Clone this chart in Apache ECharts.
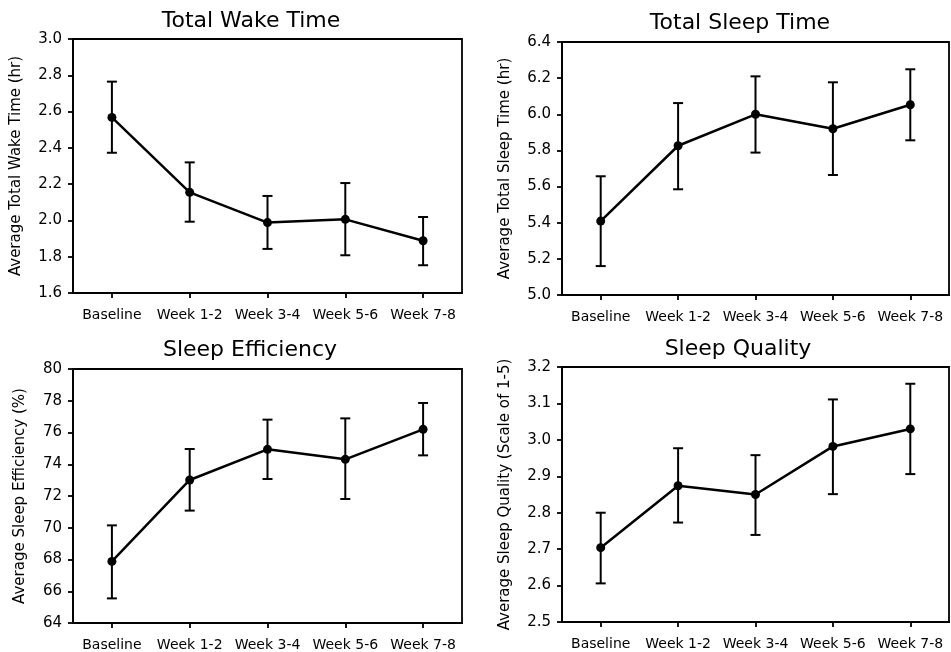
<!DOCTYPE html>
<html>
<head>
<meta charset="utf-8">
<script src="https://cdn.jsdelivr.net/npm/echarts@6/dist/echarts.min.js"></script>
<style>html,body{margin:0;padding:0;background:#fff;}#c{width:951px;height:652px;}</style>
</head>
<body>
<div id="c"></div>
<script>
var categories = ['Baseline', 'Week 1-2', 'Week 3-4', 'Week 5-6', 'Week 7-8'];

var titles = ['Total Wake Time', 'Total Sleep Time', 'Sleep Efficiency', 'Sleep Quality'];
var yNames = ['Average Total Wake Time (hr)', 'Average Total Sleep Time (hr)', 'Average Sleep Efficiency (%)', 'Average Sleep Quality (Scale of 1-5)'];

var wakeMean = [2.568, 2.155, 1.988, 2.006, 1.888];
var wakeLow  = [2.373, 1.993, 1.843, 1.808, 1.753];
var wakeHigh = [2.765, 2.320, 2.135, 2.206, 2.019];

var sleepMean = [5.409, 5.826, 6.000, 5.920, 6.053];
var sleepLow  = [5.160, 5.585, 5.788, 5.664, 5.856];
var sleepHigh = [5.657, 6.062, 6.210, 6.177, 6.249];

var effMean = [67.88, 73.01, 74.94, 74.31, 76.20];
var effLow  = [65.55, 71.08, 73.07, 71.81, 74.56];
var effHigh = [70.15, 74.96, 76.81, 76.89, 77.86];

var qualMean = [2.704, 2.874, 2.850, 2.982, 3.030];
var qualLow  = [2.606, 2.773, 2.739, 2.851, 2.906];
var qualHigh = [2.800, 2.977, 2.958, 3.111, 3.154];

var yMins = [1.6, 5.0, 64, 2.5];
var yMaxs = [3.0, 6.4, 80, 3.2];
var yIntervals = [0.2, 0.2, 2, 0.1];
var yDecimals = [1, 1, 0, 1];

var means = [wakeMean, sleepMean, effMean, qualMean];
var lows = [wakeLow, sleepLow, effLow, qualLow];
var highs = [wakeHigh, sleepHigh, effHigh, qualHigh];

var FONT = 'DejaVu Sans';
var grids = [
  {left: 73, top: 39, width: 389, height: 254},
  {left: 562, top: 42, width: 387, height: 253},
  {left: 73, top: 369, width: 389, height: 254},
  {left: 562, top: 367, width: 387, height: 255}
];
var titlePos = [[251, 21], [740, 23], [250, 350], [738, 349]];
var nameGaps = [49, 49, 45, 49];

var option = {
  backgroundColor: '#fff',
  animation: false,
  grid: grids.map(function (g) {
    return Object.assign({show: true, borderColor: '#000', borderWidth: 1.8, backgroundColor: 'transparent'}, g);
  }),
  graphic: titles.map(function (t, i) {
    return {type: 'text', x: titlePos[i][0], y: titlePos[i][1],
      style: {text: t, font: '22px "' + FONT + '"', fill: '#000', textAlign: 'center', textVerticalAlign: 'middle'}};
  }),
  xAxis: grids.map(function (g, i) {
    return {
      type: 'category', gridIndex: i, data: categories, boundaryGap: true,
      axisLine: {show: true, lineStyle: {color: '#000', width: 1.8}},
      axisTick: {show: true, alignWithLabel: true, length: 5, lineStyle: {color: '#000', width: 1.8}},
      axisLabel: {color: '#000', fontFamily: FONT, fontSize: 14, margin: 15, interval: 0},
      splitLine: {show: false}
    };
  }),
  yAxis: grids.map(function (g, i) {
    return {
      type: 'value', gridIndex: i, min: yMins[i], max: yMaxs[i], interval: yIntervals[i],
      name: yNames[i], nameLocation: 'middle', nameRotate: 90, nameGap: nameGaps[i],
      nameTextStyle: {color: '#000', fontFamily: FONT, fontSize: 15},
      axisLine: {show: true, lineStyle: {color: '#000', width: 1.8}},
      axisTick: {show: true, length: 5, lineStyle: {color: '#000', width: 1.8}},
      axisLabel: {color: '#000', fontFamily: FONT, fontSize: 15, margin: 11,
        formatter: (function (d) { return function (v) { return Number(v).toFixed(d); }; })(yDecimals[i])},
      splitLine: {show: false}
    };
  }),
  series: []
};

for (var i = 0; i < 4; i++) {
  var ebData = categories.map(function (c, k) { return [k, lows[i][k], highs[i][k]]; });
  option.series.push({
    type: 'custom', xAxisIndex: i, yAxisIndex: i, data: ebData, z: 2,
    encode: {x: 0, y: [1, 2]},
    renderItem: function (params, api) {
      var x = api.value(0);
      var lo = api.coord([x, api.value(1)]);
      var hi = api.coord([x, api.value(2)]);
      var hw = 5;
      var st = {stroke: '#000', lineWidth: 2, fill: null};
      return {type: 'group', children: [
        {type: 'line', shape: {x1: lo[0], y1: lo[1], x2: hi[0], y2: hi[1]}, style: st},
        {type: 'line', shape: {x1: lo[0] - hw, y1: lo[1], x2: lo[0] + hw, y2: lo[1]}, style: st},
        {type: 'line', shape: {x1: hi[0] - hw, y1: hi[1], x2: hi[0] + hw, y2: hi[1]}, style: st}
      ]};
    }
  });
  option.series.push({
    type: 'line', xAxisIndex: i, yAxisIndex: i, data: means[i], z: 3,
    symbol: 'circle', symbolSize: 9, showSymbol: true,
    itemStyle: {color: '#000'}, lineStyle: {color: '#000', width: 2.5}
  });
}

var chart = echarts.init(document.getElementById('c'), null, {renderer: 'canvas'});
chart.setOption(option);
</script>
</body>
</html>
